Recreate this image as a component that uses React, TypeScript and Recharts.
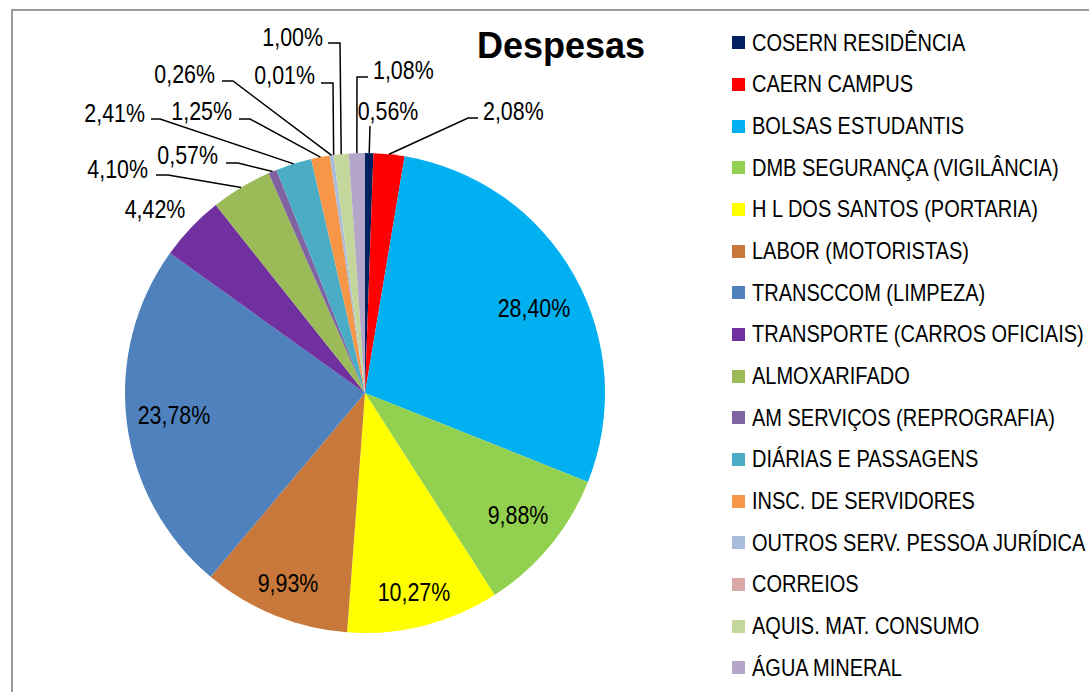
import React from 'react';
import { PieChart, Pie, Cell, Legend } from 'recharts';

const categories = [
  'COSERN RESIDÊNCIA',
  'CAERN CAMPUS',
  'BOLSAS ESTUDANTIS',
  'DMB SEGURANÇA (VIGILÂNCIA)',
  'H L DOS SANTOS (PORTARIA)',
  'LABOR (MOTORISTAS)',
  'TRANSCCOM (LIMPEZA)',
  'TRANSPORTE (CARROS OFICIAIS)',
  'ALMOXARIFADO',
  'AM SERVIÇOS (REPROGRAFIA)',
  'DIÁRIAS E PASSAGENS',
  'INSC. DE SERVIDORES',
  'OUTROS SERV. PESSOA JURÍDICA',
  'CORREIOS',
  'AQUIS. MAT. CONSUMO',
  'ÁGUA MINERAL',
];

const shares = [0.56, 2.08, 28.4, 9.88, 10.27, 9.93, 23.78, 4.42, 4.1, 0.57, 2.41, 1.25, 0.26, 0.01, 1.0, 1.08];

const colors = [
  '#002060', '#ff0000', '#00b0f0', '#92d050', '#ffff00', '#c8783a', '#4f81bd', '#7030a0',
  '#9bbb59', '#8064a2', '#4bacc6', '#f79646', '#a9bcdb', '#d9a8a7', '#c4d79b', '#b4a6c9',
];

const data = categories.map((name, i) => ({ name, value: shares[i] }));

// label placement, offsets from the pie centre
// text: [dx, dy(baseline), anchor]; path: leader elbow + end points
type LabelSpot = { text: [number, number, string]; path?: [number, number][] };
const labelSpots: LabelSpot[] = [
  { text: [23, -273, 'middle'], path: [[5, -267]] },
  { text: [118, -273, 'start'], path: [[103, -275], [113, -275]] },
  { text: [169, -76, 'middle'] },
  { text: [153, 131, 'middle'] },
  { text: [49, 208, 'middle'] },
  { text: [-77, 199, 'middle'] },
  { text: [-191, 31, 'middle'] },
  { text: [-210, -175, 'middle'] },
  { text: [-217, -215, 'end'], path: [[-197, -218], [-209, -218]] },
  { text: [-147, -229, 'end'], path: [[-127, -230], [-139, -230]] },
  { text: [-220, -271, 'end'], path: [[-205, -274], [-214, -274]] },
  { text: [-133, -273, 'end'], path: [[-115, -274], [-126, -274]] },
  { text: [-150, -310, 'end'], path: [[-132, -312], [-143, -312]] },
  { text: [-50, -309, 'end'], path: [[-32, -310], [-44, -310]] },
  { text: [-42, -347, 'end'], path: [[-25, -350], [-37, -350]] },
  { text: [8, -314, 'start'], path: [[-8, -316], [3, -316]] },
];

// no narrow font installed, so squeeze Liberation Sans like Arial Narrow
const FONT = '"Liberation Sans", Arial, sans-serif';
const NARROW = 0.84;
const RAD = Math.PI / 180;

const renderLabel = (props: any) => {
  const { cx, cy, midAngle, outerRadius, index, value } = props;
  const spot = labelSpots[index];
  const txt = Number(value).toFixed(2).replace('.', ',') + '%';
  let line = null;
  if (spot.path) {
    const sx = cx + outerRadius * Math.cos(-midAngle * RAD);
    const sy = cy + outerRadius * Math.sin(-midAngle * RAD);
    const pts = [[sx, sy], ...spot.path.map(([dx, dy]) => [cx + dx, cy + dy])];
    line = <polyline points={pts.map((p) => p.join(',')).join(' ')} fill="none" stroke="#000" strokeWidth={1.5} />;
  }
  return (
    <g key={`lbl-${index}`}>
      {line}
      <text
        transform={`translate(${cx + spot.text[0]},${cy + spot.text[1]}) scale(${NARROW},1)`}
        textAnchor={spot.text[2] as any}
        fill="#000"
        fontFamily={FONT}
        fontSize={25.5}
      >
        {txt}
      </text>
    </g>
  );
};

const renderLegend = (props: any) => {
  const items = [...(props.payload || [])].sort(
    (a: any, b: any) => categories.indexOf(a.value) - categories.indexOf(b.value)
  );
  return (
    <div>
      {items.map((it: any, i: number) => (
        <div key={i} style={{ display: 'flex', alignItems: 'center', height: 41.67 }}>
          <span style={{ width: 13, height: 13, background: it.color, marginRight: 7, flexShrink: 0 }} />
          <span
            style={{
              fontFamily: FONT, fontSize: 23.8, color: '#000', whiteSpace: 'nowrap',
              display: 'inline-block', transform: `scaleX(${NARROW})`, transformOrigin: 'left center',
            }}
          >
            {it.value}
          </span>
        </div>
      ))}
    </div>
  );
};

export default function App() {
  return (
    <div style={{ position: 'relative', width: 1089, height: 692, background: '#fff', overflow: 'hidden' }}>
      <style>{'body{margin:0}'}</style>
      <div
        style={{
          position: 'absolute', left: 11, top: 9, width: 1100, height: 700,
          borderTop: '2px solid #9a9a9a', borderLeft: '2px solid #9a9a9a',
        }}
      />
      <div
        style={{
          position: 'absolute', left: 477, top: 25, fontFamily: FONT,
          fontWeight: 'bold', fontSize: 36, color: '#000',
        }}
      >
        Despesas
      </div>
      <PieChart
        width={1089}
        height={692}
        margin={{ top: 0, right: 0, bottom: 0, left: 0 }}
        style={{ position: 'absolute', left: 0, top: 0 }}
      >
        <Pie
          data={data}
          dataKey="value"
          nameKey="name"
          cx={365}
          cy={393}
          outerRadius={240}
          startAngle={90}
          endAngle={-270}
          stroke="none"
          label={renderLabel}
          labelLine={false}
          isAnimationActive={false}
        >
          {data.map((d, i) => (
            <Cell key={d.name} fill={colors[i]} />
          ))}
        </Pie>
        <Legend
          layout="vertical"
          align="right"
          verticalAlign="top"
          content={renderLegend}
          wrapperStyle={{ position: 'absolute', left: 732, top: 22, width: 357 }}
        />
      </PieChart>
    </div>
  );
}
